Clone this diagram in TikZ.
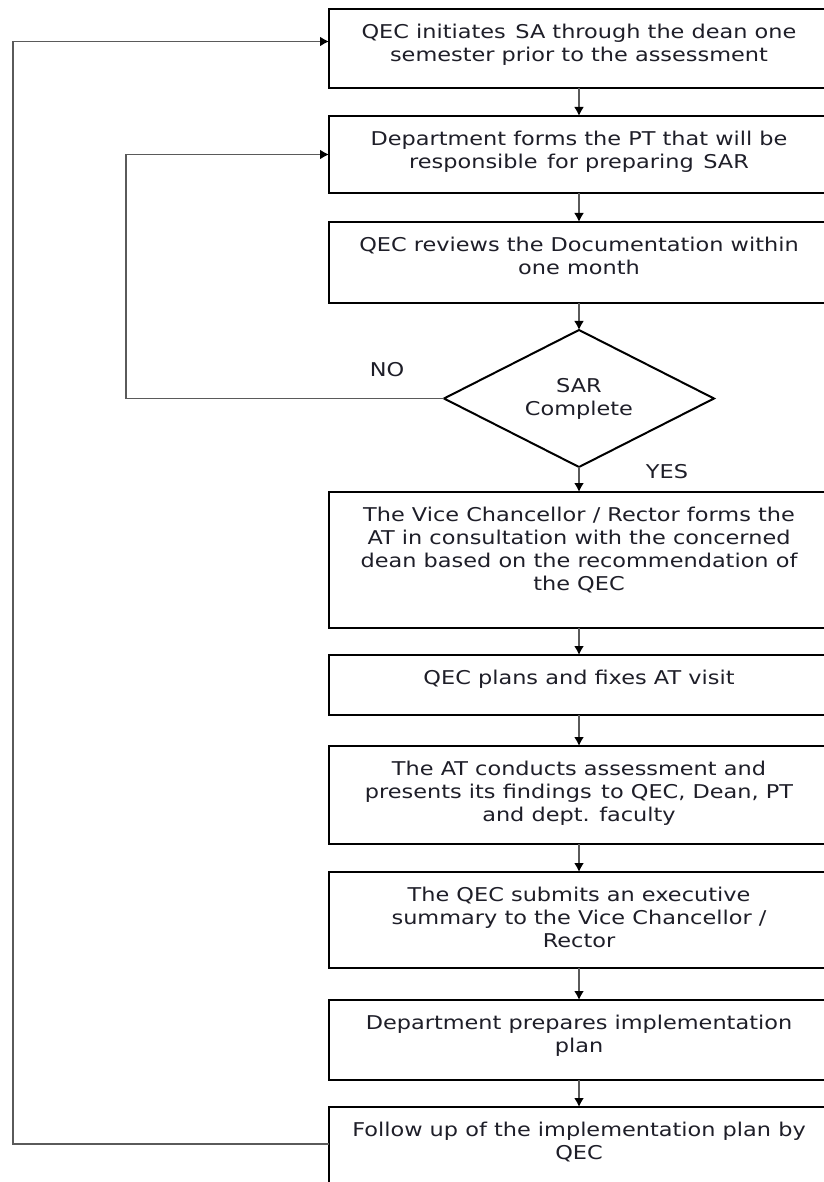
\documentclass[tikz,border=0pt]{standalone}
\usepackage{fontspec}
\setmainfont{DejaVu Sans}[FakeStretch=1.18]
\usetikzlibrary{shapes.geometric, positioning, arrows.meta}
\definecolor{linegray}{RGB}{90,90,90}
\definecolor{inkdark}{RGB}{30,30,40}

% text of a box, set from its top
\newcommand{\steptxt}[2]{\begin{minipage}[t][#1][t]{470pt}\centering #2\end{minipage}}

\begin{document}
\begin{tikzpicture}[x=1pt,y=-1pt,node distance=28pt,
	font=\fontsize{19}{23}\selectfont, text=inkdark,
	arr/.style={draw=linegray, line width=1.8pt, -{Latex[length=9pt,width=10pt,black]}},
	stepbox/.style={draw, line width=2.4pt, minimum width=500pt, outer sep=0pt,
		inner xsep=0pt, inner ysep=15pt},
	decision/.style={diamond, draw, line width=2pt, aspect=1.97, outer sep=0pt,
		minimum width=270pt, minimum height=137pt, inner sep=0pt, align=center}]
	\useasboundingbox (0,0) rectangle (823,1182);

	\node[stepbox, anchor=north west] (b1) at (329,9)
		{\steptxt{49pt}{QEC initiates\enspace SA through the dean one\\semester prior to the assessment}};
	\node[stepbox] (b2) [below=of b1]
		{\steptxt{47pt}{Department forms the PT that will be\\responsible\enspace for preparing\enspace SAR}};
	\node[stepbox] (b3) [below=29pt of b2]
		{\steptxt{51pt}{QEC reviews the Documentation within\\one month}};
	\node[decision] (sar) [below=27pt of b3] {SAR\\Complete};
	\node[stepbox] (b5) [below=25pt of sar]
		{\steptxt{106pt}{The Vice Chancellor / Rector forms the\\AT in consultation with the concerned\\dean based on the recommendation of\\the QEC}};
	\node[stepbox] (b6) [below=27pt of b5]
		{\steptxt{30pt}{QEC plans and fixes AT visit}};
	\node[stepbox] (b7) [below=31pt of b6]
		{\steptxt{68pt}{The AT conducts assessment and\\presents its findings\enspace to QEC, Dean, PT\\and dept. faculty}};
	\node[stepbox] (b8) [below=of b7]
		{\steptxt{66pt}{The QEC submits an executive\\summary to the Vice Chancellor /\\Rector}};
	\node[stepbox] (b9) [below=32pt of b8]
		{\steptxt{50pt}{Department prepares implementation\\plan}};
	\node[stepbox] (b10) [below=27pt of b9]
		{\steptxt{62pt}{Follow up of the implementation plan by\\QEC}};

	\node (no) at (387,370) {NO};
	\node (yes) at (667,472) {YES};

	\draw[arr] (b1) -- (b2);
	\draw[arr] (b2) -- (b3);
	\draw[arr] (b3) -- (sar);
	\draw[arr] (sar) -- (b5);
	\draw[arr] (b5) -- (b6);
	\draw[arr] (b6) -- (b7);
	\draw[arr] (b7) -- (b8);
	\draw[arr] (b8) -- (b9);
	\draw[arr] (b9) -- (b10);
	% loops back
	\draw[arr] (sar.west) -- ++(-318,0) |- (b2.west);
	\draw[arr] ([yshift=9pt]b10.west) -- ++(-316,0) |- ([yshift=7pt]b1.west);
\end{tikzpicture}
\end{document}
